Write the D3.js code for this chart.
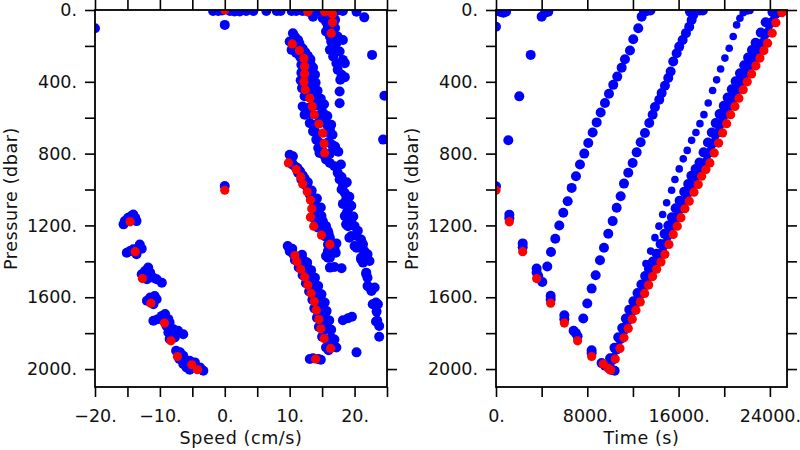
<!DOCTYPE html>
<html><head><meta charset="utf-8">
<script src="https://cdn.jsdelivr.net/npm/d3@7"></script>
<style>body{margin:0;background:#fff}</style>
</head><body>
<svg id="c" width="800" height="450"></svg>
<script>
// ---------- tick data ----------
const speedTicks = [-20,-15,-10,-5,0,5,10,15,20,25];
const speedLabels = [-20,-10,0,10,20];
const timeTicks = [0,4000,8000,12000,16000,20000,24000];
const timeLabels = [0,8000,16000,24000];
const pressureTicks = [0,200,400,600,800,1000,1200,1400,1600,1800,2000];
const pressureLabels = [0,400,800,1200,1600,2000];

// ---------- left panel: speed (cm/s) vs pressure (dbar) ----------
const leftRed = [
 [0,1004],[-14.6,1180],[-13.8,1346],[-12.7,1496],[-11.4,1633],[-9.3,1744],[-8.3,1843],[-7.3,1930],[-5.1,1976],[-4.2,2004],
 [14.0,1944],[16.3,1885],[15.3,1830],[14.8,1776],[14.5,1724],[14.1,1672],[13.8,1624],[13.3,1578],[12.8,1532],[12.3,1487],[11.7,1444],[11.1,1402],[10.8,1368],
 [16.2,1306],[14.9,1254],[13.7,1204],[13.2,1154],[13.4,1107],[13.2,1059],[12.7,1013],[12.0,969],[11.7,930],[11.0,889],[9.8,852],
 [15.4,796],[15.3,744],[15.1,686],[14.5,635],[13.8,583],[13.5,537],[13.1,491],[12.4,444],[12.2,400],[12.3,356],[12.3,315],[12.2,269],[11.5,226],[10.4,189],
 [16.4,130],[16.6,70],[16.6,22],[15.4,10],[12.8,10],[0,0]
];
const leftBlueSurface = [
 [-1.8,5],[-1.0,5],[-0.4,3],[0.8,5],[1.5,8],[2.3,8],[3.3,5],[4.4,5],[6.4,5],[8.0,5],[8.6,5],[10.3,5],[11.0,5],[12.0,5],[12.8,8],[13.6,37],[14.4,5],[15.4,5],[16.2,10],[17.2,5],[18.2,5],[20.3,10],[21.5,41],
 [0,83],[0,981],[-20,102],[22.7,250],[24.6,478],[24.4,722]
];
const leftBlueDescent = [
 [-15.6,1194],[-15.4,1176],[-14.9,1157],[-14.4,1148],[-14.1,1139],[-13.8,1157],[-13.6,1176],
 [-15.1,1352],[-14.6,1343],[-14.1,1333],[-13.3,1324],[-13.1,1306],[-12.8,1330],[-13.6,1361],
 [-12.8,1472],[-12.3,1454],[-11.8,1435],[-11.5,1463],[-11.0,1491],[-10.5,1500],[-9.7,1519],[-12.0,1500],
 [-12.0,1620],[-11.5,1602],[-10.8,1593],[-10.5,1611],[-11.0,1639],
 [-11.0,1731],[-10.3,1722],[-9.7,1704],[-9.2,1694],[-8.7,1722],[-8.5,1741],[-9.0,1759],
 [-8.7,1796],[-7.9,1778],[-7.2,1787],[-6.4,1806],[-8.5,1833],[-7.7,1824],
 [-7.5,1898],[-6.9,1907],[-6.4,1926],[-7.0,1944],
 [-6.4,1972],[-5.9,1991],[-5.4,1954],[-4.6,1963],[-3.8,1991],[-3.3,2009],[-5.4,2004]
];
const leftBlueTop = [
 [15.1,46],[15.6,65],[15.9,93],[15.6,120],[16.2,148],[16.9,157],[17.4,148],[16.4,176],[17.2,185],[18.2,167],[16.9,213],[17.7,231],[16.2,222],
 [16.7,259],[18.2,278],[17.2,296],[18.5,296],[17.4,333],[18.0,361],[18.5,374],[17.8,389],[17.7,454],[17.7,519],
 [16.0,30],[17.0,55],[17.0,100],[16.3,110]
];
const leftBlueChain3 = [
 [10.5,130],[10.8,148],[10.0,175],[10.8,200],[11.3,167],[11.5,185],
 [10.3,222],[11.0,240],[12.0,215],[12.4,235],
 [11.6,260],[12.0,280],[12.8,255],[13.2,275],
 [11.8,305],[12.6,325],[13.2,300],[13.6,320],
 [11.8,350],[12.7,365],[13.3,345],[13.9,360],
 [11.7,392],[12.8,410],[13.4,390],[14.0,405],
 [11.9,435],[12.9,455],[13.6,440],[14.3,450],
 [12.3,480],[13.6,500],[14.2,485],[14.8,495],
 [12.0,537],[13.0,545],[14.2,530],[14.9,545],[15.3,525],
 [12.3,583],[13.2,575],[14.4,590],[15.2,575],[15.8,590],
 [13.1,630],[13.9,640],[15.1,625],[15.8,640],[16.4,639],
 [13.6,676],[13.8,667],[14.2,690],[15.8,680],[16.2,667],[16.6,695],
 [14.1,722],[14.4,769],[14.6,740],[16.0,735],[16.5,750],[17.0,760],
 [14.6,796],[15.0,780],[15.4,815],[15.6,833],[16.2,800],[16.2,852],[16.9,870],[17.5,790]
];
const leftBlueStreak = [
 [17.9,861],[17.4,907],[17.7,944],[18.2,981],[18.5,1019],[18.7,1056],[19.0,1111],[18.5,1148],[19.5,1176],[20.0,1204],[19.0,1204],
 [19.5,1259],[20.3,1259],[21.0,1278],[20.0,1315],[20.8,1324],[21.5,1343],[22.0,1361],[21.0,1380],[22.3,1398],[21.0,1389],[21.5,1370],
 [21.3,1407],[21.8,1472],[22.0,1491],[22.3,1546],[23.1,1546],[22.6,1565],[22.8,1639],[23.3,1630],[23.3,1648],[23.5,1731],[23.8,1820],
 [18.0,930],[18.8,960],[18.0,1000],[19.2,1040],[18.2,1080],[19.5,1090],[18.8,1130],[19.8,1150],[18.7,1194],[20.5,1230],[19.2,1269],
 [21.2,1300],[21.3,1306],[20.3,1324],[21.8,1463],[22.0,1537],[23.6,1639],[23.4,1680],[23.3,1735],[23.8,1760]
];
const leftBlueChain2 = [
 [10.0,806],[10.5,815],[10.3,843],[10.8,870],[11.3,907],[11.8,944],[12.3,972],[12.8,1000],[13.1,1028],[13.6,1065],[14.1,1093],
 [14.4,1120],[14.9,1148],[15.1,1176],[15.6,1204],[15.9,1231],[15.6,1259],[16.2,1287],[16.4,1315],[16.2,1343],[15.6,1370],
 [10.4,860],[11.6,898],[12.3,938],[12.6,978],[13.3,1022],[13.8,1068],[14.0,1115],[13.8,1162],[14.3,1212],[15.5,1262],[16.8,1313],
 [11.2,880],[12.0,920],[12.8,960],[13.4,1005],[14.2,1050],[14.8,1100],[14.6,1140],[15.2,1190],[16.0,1245],[17.2,1300],[16.9,1330],[17.1,1352],
 [14.4,1194],[15.1,1213],[16.2,1269],[15.9,1306],[15.9,1343],[16.2,1380]
];
const leftBlueChain1 = [
 [10.5,1358],[11.3,1376],[11.9,1363],[9.7,1315],[10.0,1343],[10.4,1330],
 [10.8,1392],[11.6,1410],[12.2,1397],[12.7,1407],
 [11.4,1434],[12.2,1452],[12.8,1439],[13.3,1449],
 [12.0,1477],[12.8,1495],[13.4,1482],[13.9,1492],
 [12.5,1522],[13.3,1540],[13.9,1527],[14.4,1537],
 [13.0,1568],[13.8,1586],[14.4,1573],[14.9,1583],
 [13.5,1614],[14.3,1632],[14.9,1619],[15.4,1629],
 [13.8,1662],[14.6,1680],[15.2,1667],[15.7,1677],
 [14.2,1714],[15.0,1732],[15.6,1719],[16.1,1729],
 [14.5,1766],[15.3,1784],[15.9,1771],[16.4,1781],
 [15.0,1820],[15.8,1838],[16.4,1825],[16.9,1835],
 [15.6,1880],[16.7,1870],[17.2,1880],[16.0,1895],
 [13.1,1944],[14.4,1944],[13.6,1940],[14.8,1948],
 [15.9,1380],[16.2,1435],[16.9,1432],[18.0,1439],[18.2,1728],[19.0,1717],[19.6,1709],[20.3,1907]
];

// ---------- right panel: time (s) vs pressure (dbar) ----------
const rightRed = [
 [0,1004],[1170,1180],[2340,1346],[3560,1496],[4790,1633],[5990,1744],[7150,1843],[8380,1930],[9400,1972],[9840,1996],[10050,2006],
 [10451,1944],[10862,1885],[11213,1826],[11589,1774],[11940,1722],[12264,1672],[12641,1626],[13026,1579],[13377,1532],[13727,1485],
 [14077,1444],[14454,1404],[14804,1361],[15155,1306],[15531,1250],[15882,1204],[16206,1157],[16556,1107],[16933,1065],[17345,1015],
 [17721,972],[18019,926],[18396,889],[18746,852],[19123,796],[19509,741],[19859,685],[20209,633],[20560,583],[20936,537],
 [21287,491],[21663,444],[22014,400],[22399,356],[22776,311],[23126,268],[23477,226],[23801,185],[24204,129],[24528,71],[25050,15],[25280,0]
];
const rightBlueMisc = [
 [0,93],[350,10],[640,15],[880,10],[1080,726],[2040,481],[3040,250],[4000,37],[4290,15],[4580,10]
];
const rightBlueDescent = [
 [0,982],[1170,1140],[1170,1160],[2340,1300],[2340,1322],[3560,1440],[3560,1462],[3700,1482],[4790,1592],[4790,1612],
 [5990,1700],[5990,1722],[6800,1787],[7000,1800],[7150,1818],[8380,1895],[8380,1912],[9250,1967],[9550,1981],[9980,2000],[10200,2005],[10400,2009]
];
const lineA = [
 [4056,1515],[4494,1429],[4818,1348],[5195,1274],[5545,1200],[5895,1129],[6281,1065],[6631,991],[7008,926],[7358,861],[7735,800],
 [8085,741],[8471,682],[8821,626],[9172,571],[9548,518],[9899,467],[10275,417],[10626,371],[11011,321],[11300,274],[11738,226],
 [12027,163],[12465,102],[12763,37],[12965,9],[13228,5],[13534,3]
];
const lineB = [
 [7647,1718],[7998,1635],[8383,1552],[8734,1478],[9110,1394],[9461,1324],[9837,1246],[10223,1176],[10573,1102],[10924,1037],
 [11213,967],[11589,907],[11975,852],[12325,793],[12676,737],[13052,685],[13429,629],[13727,583],[13928,541],[14305,500],
 [14515,463],[14804,422],[15093,379],[15304,343],[15531,287],[15830,241],[16057,204],[16355,167],[16644,129],[16933,93],
 [17143,56],[17283,28],[16994,9],[17520,5],[17870,3],[18133,3]
];
const lineC = [
 [13140,1413],[13552,1343],[13928,1268],[14279,1204],[14603,1139],[14953,1074],[15391,1004],[15680,944],[16057,885],[16407,829],
 [16758,782],[17143,726],[17520,682],[17870,633],[18221,583],[18597,518],[18983,448],[19333,389],[19684,329],[20060,268],
 [20437,213],[20787,148],[21086,83],[21374,46],[21663,15],[21988,5],[22250,3]
];
const rightBlueAscent = [
 [10300,1938],[10150,1952],[10000,1940],[10700,1880],[10540,1893],[10380,1882],[11050,1820],[10880,1834],[10710,1823],
 [11410,1768],[11230,1782],[11060,1771],[11750,1716],[11570,1730],[11380,1719],[12070,1666],[11880,1680],[11680,1669],
 [12440,1620],[12240,1634],[12040,1623],[12820,1573],[12610,1587],[12400,1576],[13160,1526],[12950,1540],[12740,1529],
 [13510,1479],[13290,1493],[13070,1482],[13850,1438],[13620,1452],[13400,1441],[14220,1398],[13990,1412],[13750,1401],
 [14560,1355],[14320,1369],[14080,1358],[14910,1300],[14660,1314],[14420,1303],[15280,1244],[15020,1258],[14770,1247],
 [15620,1198],[15360,1212],[15100,1201],[15940,1151],[15670,1165],[15410,1154],[16280,1101],[16010,1115],[15740,1104],
 [16650,1059],[16370,1073],[16090,1062],[17060,1009],[16770,1023],[16490,1012],[17430,966],[17130,980],[16840,969],
 [17720,920],[17420,934],[17120,923],[18090,883],[17790,897],[17490,886],[18440,846],[18130,860],[17830,849],
 [18810,790],[18500,804],[18190,793],[19200,735],[18880,749],[18570,738],[19540,679],[19220,693],[18910,682],
 [19890,627],[19570,641],[19250,630],[20240,577],[19910,591],[19590,580],[20610,531],[20280,545],[19960,534],
 [20960,485],[20630,499],[20300,488],[21330,438],[21000,452],[20660,441],[21680,394],[21340,408],[21000,397],
 [22060,350],[21720,364],[21380,353],[22430,305],[22090,319],[21750,308],[22780,262],[22430,276],[22090,265],
 [23130,220],[22780,234],[22430,223],[23450,179],[23100,193],[22750,182],[23870,123],[23540,137],[23200,126],
 [24230,65],[23930,79],[23630,68],[24760,9],[24490,23],[24230,12],[25100,2],[24900,3]
];

// ---------- drawing ----------
const svg = d3.select('#c');
const FONT = "'DejaVu Sans', Verdana, sans-serif";
const y = d3.scaleLinear().domain([0,2100]).range([10,387]);
const fmt = d => (d < 0 ? '\u2212' + Math.abs(d) : String(d)) + '.';

function panel(id, x, xTicks, xLabels, xTitle, blueSets, smallSet, red) {
  const g = svg.append('g');
  const [x0,x1] = x.range();
  const [y0,y1] = y.range();
  svg.append('clipPath').attr('id', id).append('rect')
    .attr('x', x0).attr('y', y0).attr('width', x1-x0).attr('height', y1-y0);

  const style = sel => {
    sel.select('.domain').remove();
    sel.selectAll('line').attr('stroke','#000').attr('stroke-width',1.6);
    sel.selectAll('text').attr('font-family',FONT).attr('font-size','17.5px').attr('fill','#111');
  };
  g.append('g').attr('transform',`translate(0,${y1})`)
    .call(d3.axisBottom(x).tickValues(xTicks).tickSize(10).tickPadding(13)
      .tickFormat(d => xLabels.includes(d) ? fmt(d) : '')).call(style);
  g.append('g').attr('transform',`translate(0,${y0})`)
    .call(d3.axisTop(x).tickValues(xTicks).tickSize(10).tickFormat('')).call(style);
  g.append('g').attr('transform',`translate(${x0},0)`)
    .call(d3.axisLeft(y).tickValues(pressureTicks).tickSize(10).tickPadding(8)
      .tickFormat(d => pressureLabels.includes(d) ? fmt(d) : '')).call(style);
  g.append('g').attr('transform',`translate(${x1},0)`)
    .call(d3.axisRight(y).tickValues(pressureTicks).tickSize(10).tickFormat('')).call(style);

  const pts = g.append('g').attr('clip-path',`url(#${id})`);
  blueSets.forEach(set => {
    pts.append('g').selectAll('circle').data(set).join('circle')
      .attr('cx', d => x(d[0])).attr('cy', d => y(d[1])).attr('r', 5).attr('fill', '#0000ff');
  });
  if (smallSet) {
    pts.append('g').selectAll('circle').data(smallSet).join('circle')
      .attr('cx', d => x(d[0])).attr('cy', d => y(d[1])).attr('r', 3.8).attr('fill', '#0000ff');
  }
  pts.append('g').selectAll('circle').data(red).join('circle')
    .attr('cx', d => x(d[0])).attr('cy', d => y(d[1])).attr('r', 4.6).attr('fill', '#ff0000');

  g.append('rect').attr('x',x0).attr('y',y0).attr('width',x1-x0).attr('height',y1-y0)
    .attr('fill','none').attr('stroke','#000').attr('stroke-width',1.8);

  g.append('text').attr('x',(x0+x1)/2).attr('y',444).attr('text-anchor','middle')
    .attr('font-family',FONT).attr('font-size','17.5px').attr('letter-spacing','0.6px').attr('fill','#111').text(xTitle);
  g.append('text').attr('transform',`translate(${x0-78},${(y0+y1)/2}) rotate(-90)`).attr('text-anchor','middle')
    .attr('font-family',FONT).attr('font-size','17.5px').attr('letter-spacing','0.6px').attr('fill','#111').text('Pressure (dbar)');
}

const leftX = d3.scaleLinear().domain([-20,25]).range([95,387]);
const rightX = d3.scaleLinear().domain([0,25500]).range([496,787]);

panel('clipL', leftX, speedTicks, speedLabels, 'Speed (cm/s)',
  [leftBlueSurface, leftBlueDescent, leftBlueTop, leftBlueChain3, leftBlueStreak, leftBlueChain2, leftBlueChain1], null, leftRed);
panel('clipR', rightX, timeTicks, timeLabels, 'Time (s)',
  [rightBlueMisc, rightBlueDescent, lineA, lineB, rightBlueAscent], lineC, rightRed);
</script>
</body></html>
